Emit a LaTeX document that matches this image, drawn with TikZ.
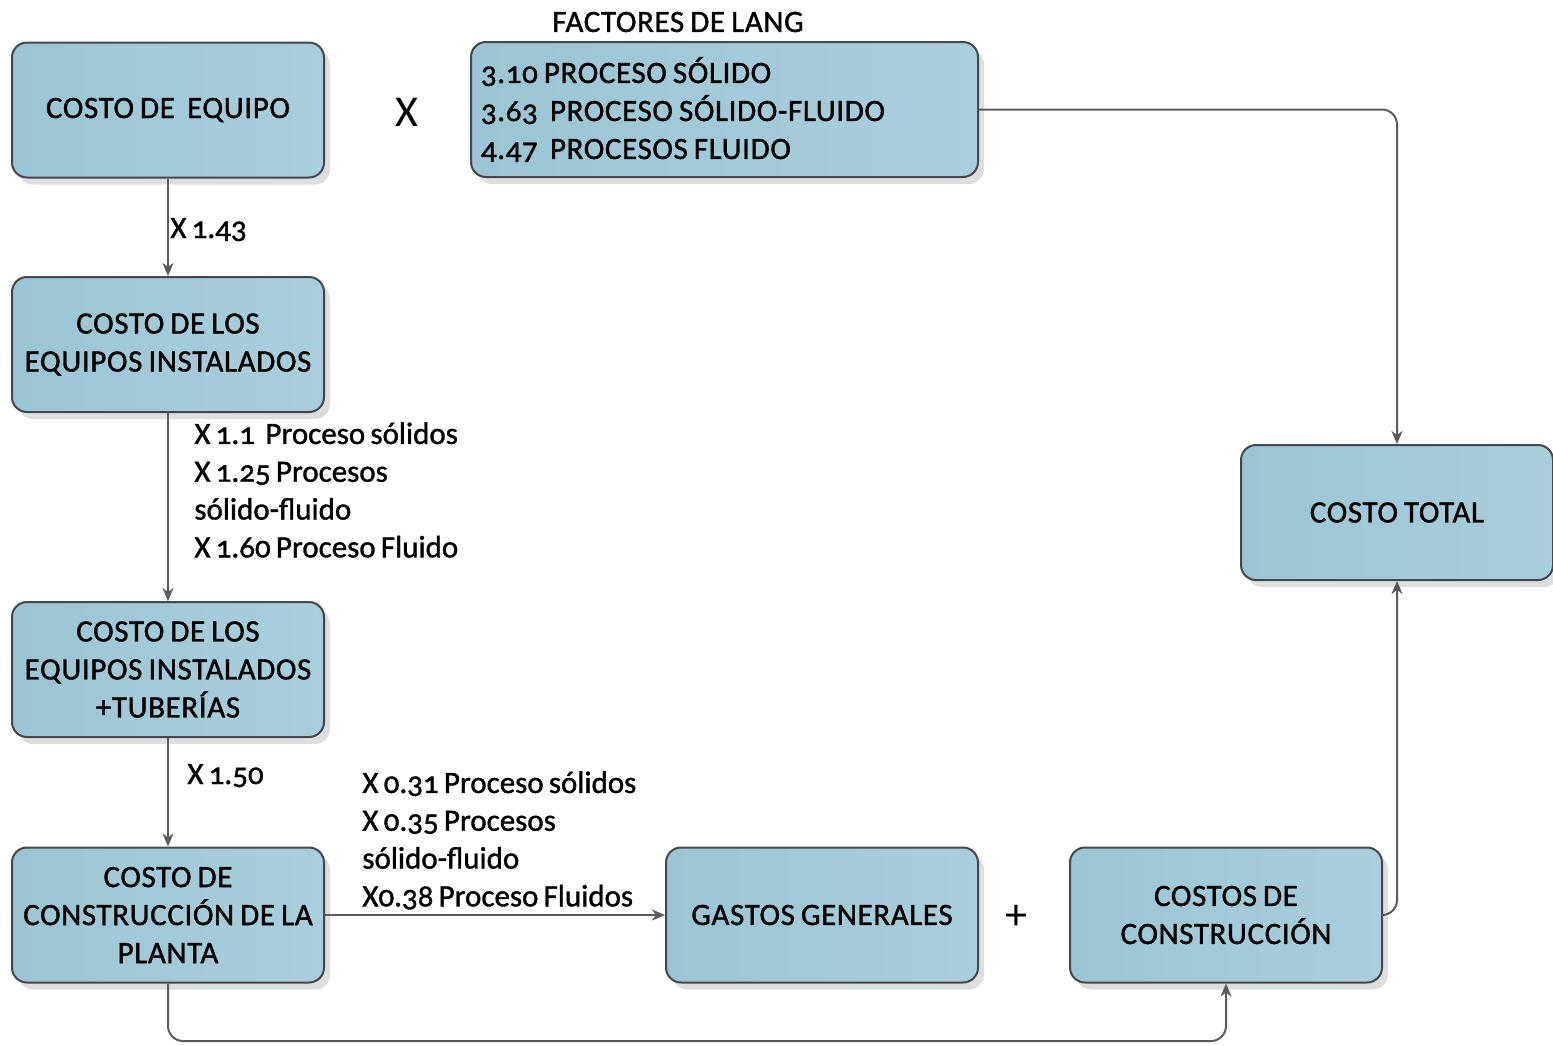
\documentclass[tikz,border=0pt]{standalone}
\usepackage{fontspec}
\setmainfont{Carlito}[Numbers=OldStyle,WordSpace=0.75,FakeBold=1.2]
\newfontfamily\boxfont{Carlito}[Numbers=OldStyle,WordSpace=0.8,FakeBold=1.2,LetterSpace=2]
\newfontfamily\thinfont{Carlito}
\usetikzlibrary{arrows.meta,shadows}

\definecolor{boxfillA}{RGB}{155,197,212}
\definecolor{boxfillB}{RGB}{170,206,219}
\definecolor{boxline}{RGB}{70,70,75}
\definecolor{connline}{RGB}{90,90,95}

\begin{document}
\begin{tikzpicture}[x=0.5pt,y=-0.5pt]
  \tikzset{block/.style = {rectangle,rounded corners=7.5pt,draw=boxline,line width=1pt,
      left color=boxfillA,right color=boxfillB,minimum width=156pt,minimum height=67.5pt,
      align=center,font=\boxfont\fontsize{15.5}{19}\selectfont,
      drop shadow={shadow xshift=3pt,shadow yshift=-3.5pt,fill=black!13,opacity=1}}}
  \tikzset{lbl/.style = {font=\fontsize{15.5}{18.9}\selectfont,align=left,inner sep=0pt}}
  \tikzset{conn/.style = {draw=connline,line width=1pt,rounded corners=7.5pt,
      -{Stealth[length=6.5pt,width=5.5pt,inset=2pt]}}}

  \useasboundingbox (0,0) rectangle (1553,1045);

  % cajas
  \node[block] (equipo) at (168,110) {COSTO DE~ EQUIPO};
  \node[block,minimum width=253.5pt,text width=243.5pt,inner xsep=5pt,align=flush left] (lang) at (724.5,109.5)
    {3.10 PROCESO SÓLIDO\\3.63~ PROCESO SÓLIDO-FLUIDO\\4.47~ PROCESOS FLUIDO};
  \node[block] (instalados) at (168,344.5) {COSTO DE LOS\\EQUIPOS INSTALADOS};
  \node[block] (tuberias) at (168,669.5) {COSTO DE LOS\\EQUIPOS INSTALADOS\\+TUBERÍAS};
  \node[block] (planta) at (168,915) {COSTO DE\\CONSTRUCCIÓN DE LA\\PLANTA};
  \node[block] (gastos) at (822,915) {GASTOS GENERALES};
  \node[block] (construccion) at (1226,915) {COSTOS DE\\CONSTRUCCIÓN};
  \node[block] (total) at (1397,512.5) {COSTO TOTAL};

  % textos sueltos
  \node[lbl,font=\boxfont\fontsize{15.5}{19}\selectfont] (titulo) at (678,22) {FACTORES DE LANG};
  \node[font=\thinfont\fontsize{22}{26}\selectfont,inner sep=0pt] (por) at (407,112) {X};
  \node[font=\thinfont\fontsize{22}{26}\selectfont,inner sep=0pt] (mas) at (1016,917) {+};

  \node[lbl,anchor=base west] (f1) at (170,238) {X 1.43};
  \node[lbl,anchor=north west] (f2) at (194,422)
    {X 1.1~ Proceso sólidos\\X 1.25 Procesos\\sólido-fluido\\X 1.60 Proceso Fluido};
  \node[lbl,anchor=base west] (f3) at (187,784) {X 1.50};
  \node[lbl,anchor=north west] (f4) at (362,771)
    {X 0.31 Proceso sólidos\\X 0.35 Procesos\\sólido-fluido\\X0.38 Proceso Fluidos};

  % conectores
  \coordinate (abajo) at (700,1041);
  \draw[conn] (equipo) -- (instalados);
  \draw[conn] (instalados) -- (tuberias);
  \draw[conn] (tuberias) -- (planta);
  \draw[conn] (planta) -- (gastos);
  \draw[conn] (lang.east) -| (total.north);
  \draw[conn] (construccion.east) -| (total.south);
  \draw[conn] (planta.south) |- (abajo) -| (construccion.south);
\end{tikzpicture}
\end{document}
